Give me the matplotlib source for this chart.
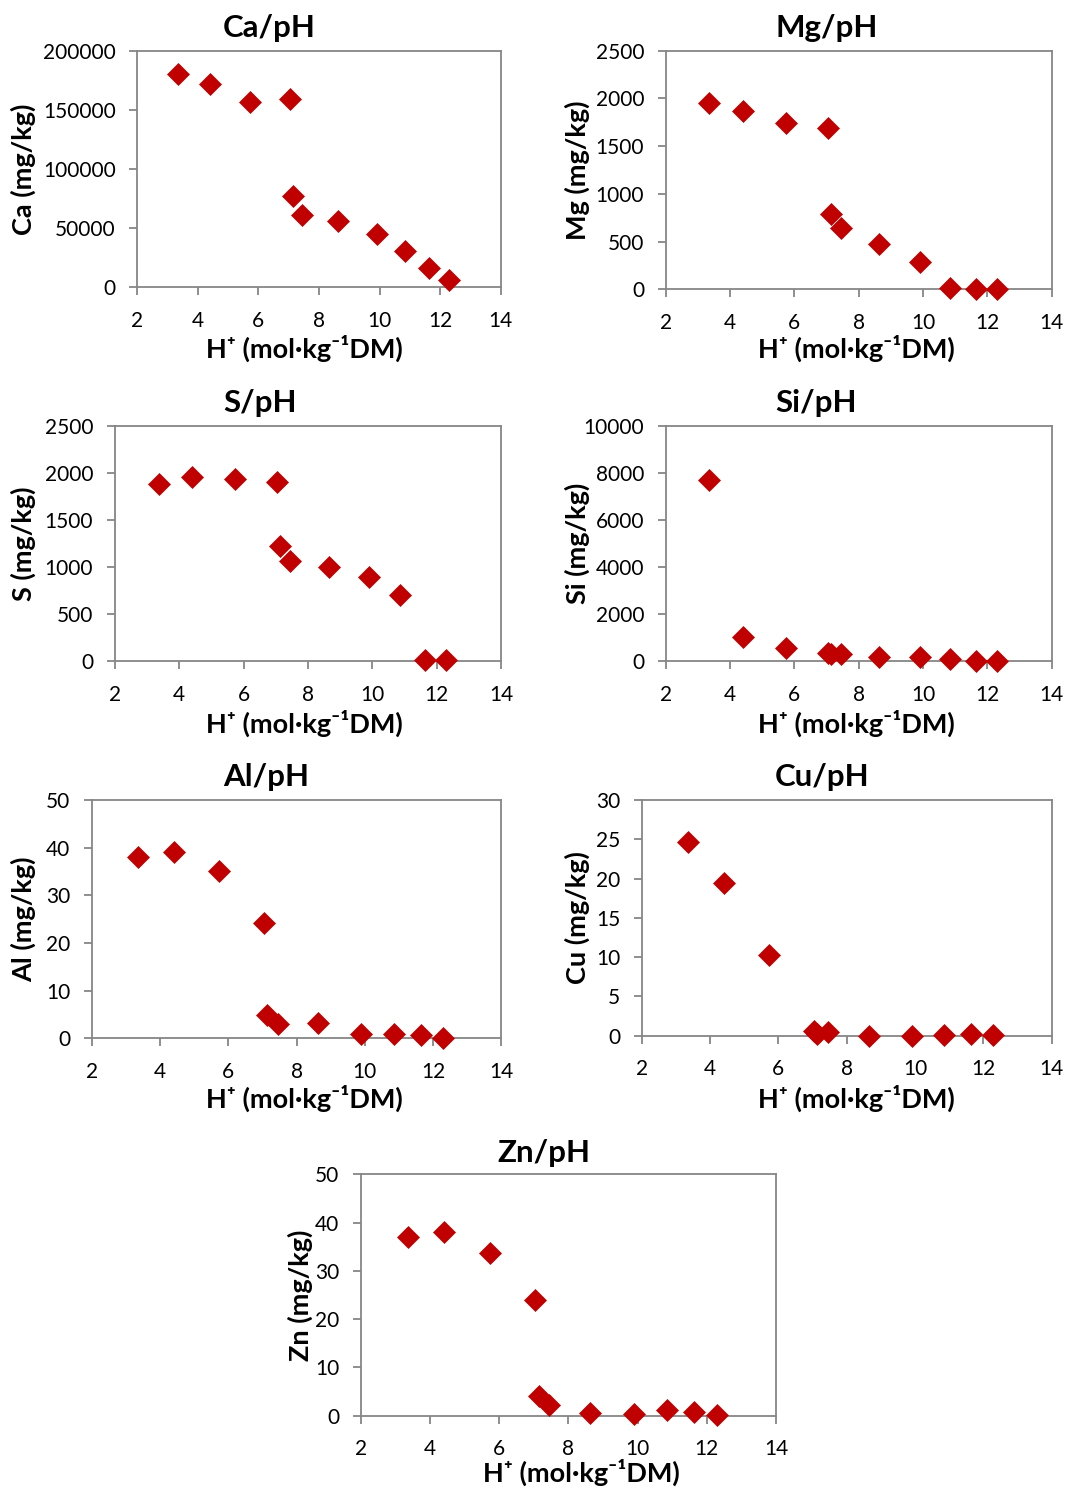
import matplotlib
matplotlib.use("Agg")
import matplotlib.pyplot as plt

plt.rcParams['font.family'] = ['Lato', 'Noto Sans', 'DejaVu Sans']

# shared x values (H+ mol/kg DM)
h_plus = [3.36, 4.40, 5.73, 7.04, 7.14, 7.44, 8.64, 9.90, 10.85, 11.64, 12.29]

ca = [180300, 171800, 156900, 159100, 77200, 61100, 56300, 44800, 31000, 16100, 6200]
mg = [1948, 1868, 1739, 1686, 786, 639, 471, 283, 10, 5, 5]
s_vals = [1877, 1958, 1933, 1898, 1225, 1066, 999, 892, 705, 11, 11]
si = [7677, 1006, 538, 326, 283, 312, 184, 184, 71, 20, 5]
al = [38.0, 39.0, 35.0, 24.2, 4.9, 3.0, 3.3, 1.0, 1.0, 0.7, 0.05]
cu = [24.7, 19.4, 10.3, 0.64, 0.2, 0.5, 0.0, 0.0, 0.15, 0.2, 0.05]
zn = [37.0, 38.1, 33.8, 24.0, 4.1, 2.3, 0.55, 0.35, 1.1, 0.8, 0.1]

titles = ["Ca/pH", "Mg/pH", "S/pH", "Si/pH", "Al/pH", "Cu/pH", "Zn/pH"]
ylabels = ["Ca (mg/kg)", "Mg (mg/kg)", "S (mg/kg)", "Si (mg/kg)",
           "Al (mg/kg)", "Cu (mg/kg)", "Zn (mg/kg)"]
ymaxes = [200000, 2500, 2500, 10000, 50, 30, 50]
ysteps = [50000, 500, 500, 2000, 10, 5, 10]
xticks = [2, 4, 6, 8, 10, 12, 14]
xlabel = "H\u207a (mol\u00b7kg\u207b\u00b9DM)"

W, H = 1091, 1488
fig = plt.figure(figsize=(W / 100, H / 100), dpi=100)

# axes boxes in pixels: left, top, right, bottom
boxes = [
    (137.3, 50.7, 500.7, 287.3),
    (665.7, 50.7, 1051.7, 289.3),
    (114.7, 425.7, 501.3, 661.0),
    (665.7, 425.7, 1051.7, 661.0),
    (92.0, 800.0, 501.3, 1038.3),
    (641.7, 800.0, 1051.7, 1035.7),
    (360.7, 1174.3, 776.0, 1415.7),
]
title_pos = [(269, 28), (827, 28), (260, 403), (816, 403), (266, 777), (822, 777), (544, 1153)]
ylabel_x = [23, 577, 23, 577, 23, 577, 300]
xlabel_pos = [(304, 348), (856, 348), (304, 723), (856, 723), (304, 1098), (856, 1098), (581, 1472)]

series = [ca, mg, s_vals, si, al, cu, zn]
gray = "#868686"
red = "#C00000"

for i, ys in enumerate(series):
    l, t, r, b = boxes[i]
    ax = fig.add_axes([l / W, 1 - b / H, (r - l) / W, (b - t) / H])
    ax.scatter(h_plus, ys, marker='D', s=125, color=red, edgecolors=red,
               linewidths=0.5, zorder=3, clip_on=False)
    ax.set_xlim(2, 14)
    ax.set_ylim(0, ymaxes[i])
    ax.set_xticks(xticks)
    ax.set_yticks(list(range(0, ymaxes[i] + 1, ysteps[i])))
    for sp in ax.spines.values():
        sp.set_color(gray)
        sp.set_linewidth(1.3)
    ax.tick_params(direction='out', length=5.5, width=1.3, color=gray,
                   labelsize=15, labelcolor='black')
    ax.tick_params(axis='x', pad=11.5)
    ax.tick_params(axis='y', pad=10)
    # title
    fig.text(title_pos[i][0] / W, 1 - title_pos[i][1] / H, titles[i],
             ha='center', va='center', fontsize=22.5, fontweight='bold')
    # y label
    fig.text(ylabel_x[i] / W, 1 - ((t + b) / 2) / H, ylabels[i], rotation=90,
             ha='center', va='center', fontsize=19.5, fontweight='bold')
    # x label
    fig.text(xlabel_pos[i][0] / W, 1 - xlabel_pos[i][1] / H, xlabel,
             ha='center', va='center', fontsize=19.5, fontweight='bold')

fig.savefig("out.png", dpi=100, facecolor='white')
